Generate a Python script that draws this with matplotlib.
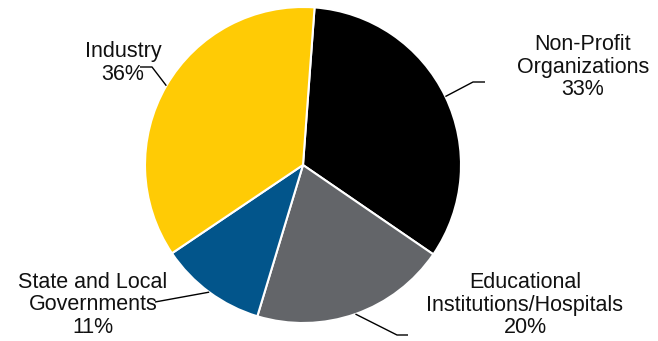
import numpy as np
import matplotlib
matplotlib.use("Agg")
import matplotlib.pyplot as plt

plt.rcParams["font.family"] = ["Liberation Sans", "DejaVu Sans"]

# ── Data ─────────────────────────────────────────────────────────────
CATEGORIES = ["Non-Profit\nOrganizations", "Educational\nInstitutions/Hospitals",
              "State and Local\nGovernments", "Industry"]
SHARES = [33.4, 20.1, 10.9, 35.6]   # labels show rounded values
COLORS = ["#000000", "#636569", "#02558B", "#FFCB05"]

W, H = 658, 341
CX, CY, R = 303, H - 165, 158

# label block centres and leader-line elbows (pixel coords, y down)
LABEL_POS = [(583, 67), (525, 305), (93, 305), (123, 63)]
ELBOWS = [[(473, 82), (485, 82)],
          [(397, 335), (408, 335)],
          [(155, 302)],
          [(152, 67), (140, 67)]]

fig = plt.figure(figsize=(W / 100, H / 100), dpi=100)
ax = fig.add_axes([0, 0, 1, 1])

wedges, _ = ax.pie(SHARES, colors=COLORS, startangle=85.8, counterclock=False,
                   center=(CX, CY), radius=R, frame=True,
                   wedgeprops=dict(edgecolor="white", linewidth=1.5))
ax.set_xlim(0, W)
ax.set_ylim(0, H)
ax.set_aspect("equal")
ax.axis("off")

for w, name, pct, pos, elbow in zip(wedges, CATEGORIES, SHARES, LABEL_POS, ELBOWS):
    ang = np.deg2rad((w.theta1 + w.theta2) / 2)
    x0 = CX + R * np.cos(ang)
    y0 = CY + R * np.sin(ang)
    xs = [x0] + [p[0] for p in elbow]
    ys = [y0] + [H - p[1] for p in elbow]
    ax.plot(xs, ys, color="black", lw=1, solid_capstyle="butt")
    ax.text(pos[0], H - pos[1], f"{name}\n{pct:.0f}%", ha="center", va="center",
            fontsize=15.5, linespacing=1.08, color="#111111")

fig.savefig("out.png", dpi=100)
